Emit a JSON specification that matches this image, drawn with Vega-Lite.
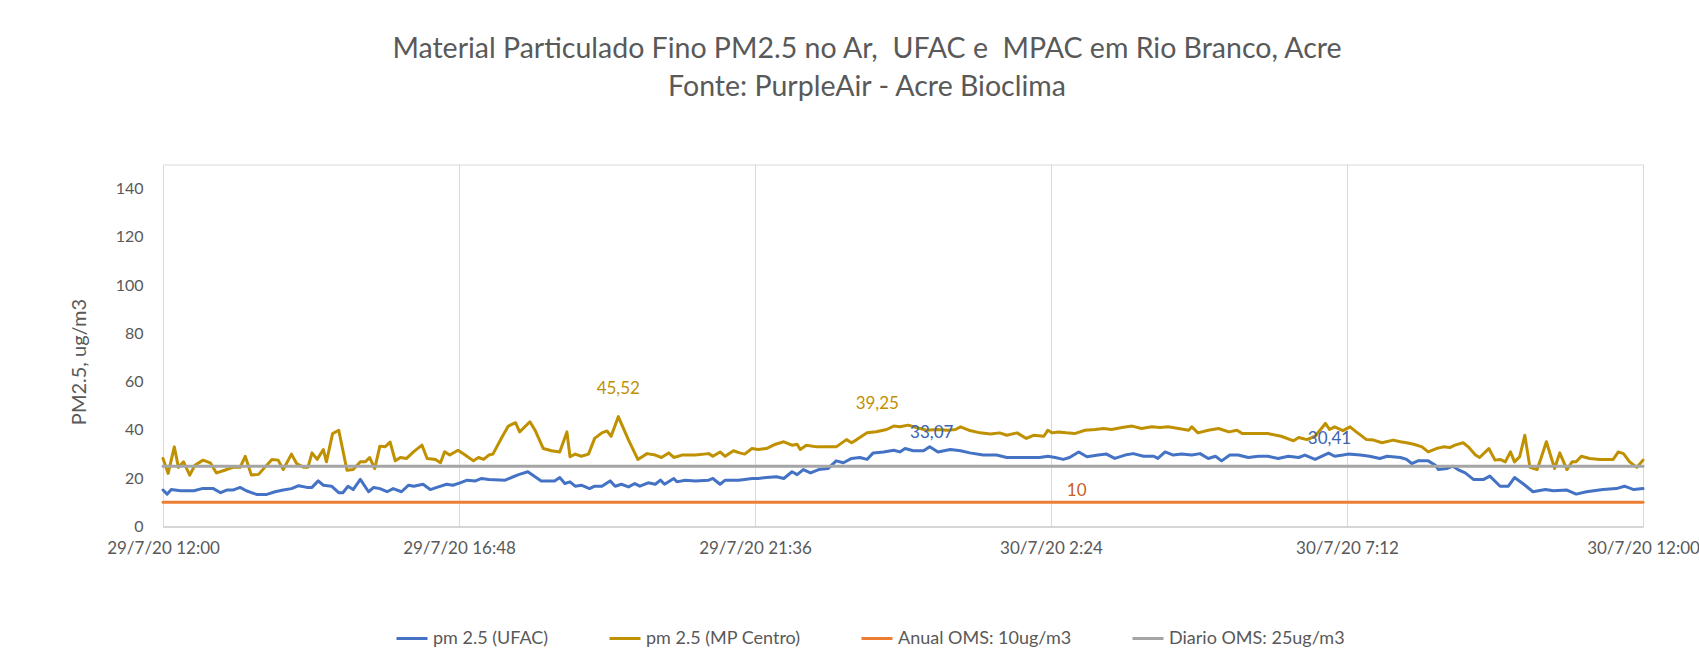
{
"$schema": "https://vega.github.io/schema/vega-lite/v6.json",
"width": 1480, "height": 362,
"autosize": {"type": "none"},
"padding": {"left": 163, "top": 164.5, "right": 56, "bottom": 143.5},
"background": "white",
"config": {"view": {"stroke": "#D9D9D9", "strokeWidth": 1}},
"title": {"text": ["Material Particulado Fino PM2.5 no Ar,\u00a0 UFAC e\u00a0 MPAC em Rio Branco, Acre", "Fonte: PurpleAir - Acre Bioclima"], "anchor": "middle", "dx": -36, "offset": 63, "font": "Lato", "fontSize": 28.5, "fontWeight": "normal", "color": "#595959", "lineHeight": 38},
"datasets": {
"series": [
{"t":"2020-07-29T12:00","s":"pm 2.5 (UFAC)","v":15.1},
{"t":"2020-07-29T12:04","s":"pm 2.5 (UFAC)","v":13.4},
{"t":"2020-07-29T12:08","s":"pm 2.5 (UFAC)","v":15.3},
{"t":"2020-07-29T12:17","s":"pm 2.5 (UFAC)","v":14.8},
{"t":"2020-07-29T12:30","s":"pm 2.5 (UFAC)","v":14.8},
{"t":"2020-07-29T12:38","s":"pm 2.5 (UFAC)","v":15.7},
{"t":"2020-07-29T12:49","s":"pm 2.5 (UFAC)","v":15.7},
{"t":"2020-07-29T12:56","s":"pm 2.5 (UFAC)","v":14.0},
{"t":"2020-07-29T13:02","s":"pm 2.5 (UFAC)","v":15.1},
{"t":"2020-07-29T13:08","s":"pm 2.5 (UFAC)","v":15.1},
{"t":"2020-07-29T13:15","s":"pm 2.5 (UFAC)","v":16.2},
{"t":"2020-07-29T13:21","s":"pm 2.5 (UFAC)","v":14.8},
{"t":"2020-07-29T13:31","s":"pm 2.5 (UFAC)","v":13.3},
{"t":"2020-07-29T13:41","s":"pm 2.5 (UFAC)","v":13.3},
{"t":"2020-07-29T13:49","s":"pm 2.5 (UFAC)","v":14.4},
{"t":"2020-07-29T13:57","s":"pm 2.5 (UFAC)","v":15.1},
{"t":"2020-07-29T14:05","s":"pm 2.5 (UFAC)","v":15.7},
{"t":"2020-07-29T14:12","s":"pm 2.5 (UFAC)","v":16.9},
{"t":"2020-07-29T14:20","s":"pm 2.5 (UFAC)","v":16.2},
{"t":"2020-07-29T14:25","s":"pm 2.5 (UFAC)","v":16.2},
{"t":"2020-07-29T14:31","s":"pm 2.5 (UFAC)","v":18.9},
{"t":"2020-07-29T14:36","s":"pm 2.5 (UFAC)","v":17.1},
{"t":"2020-07-29T14:44","s":"pm 2.5 (UFAC)","v":16.7},
{"t":"2020-07-29T14:51","s":"pm 2.5 (UFAC)","v":14.0},
{"t":"2020-07-29T14:55","s":"pm 2.5 (UFAC)","v":14.0},
{"t":"2020-07-29T15:00","s":"pm 2.5 (UFAC)","v":16.7},
{"t":"2020-07-29T15:05","s":"pm 2.5 (UFAC)","v":15.3},
{"t":"2020-07-29T15:12","s":"pm 2.5 (UFAC)","v":19.5},
{"t":"2020-07-29T15:20","s":"pm 2.5 (UFAC)","v":14.4},
{"t":"2020-07-29T15:25","s":"pm 2.5 (UFAC)","v":16.2},
{"t":"2020-07-29T15:31","s":"pm 2.5 (UFAC)","v":15.7},
{"t":"2020-07-29T15:38","s":"pm 2.5 (UFAC)","v":14.4},
{"t":"2020-07-29T15:44","s":"pm 2.5 (UFAC)","v":15.7},
{"t":"2020-07-29T15:52","s":"pm 2.5 (UFAC)","v":14.4},
{"t":"2020-07-29T15:59","s":"pm 2.5 (UFAC)","v":17.1},
{"t":"2020-07-29T16:04","s":"pm 2.5 (UFAC)","v":16.7},
{"t":"2020-07-29T16:13","s":"pm 2.5 (UFAC)","v":17.5},
{"t":"2020-07-29T16:20","s":"pm 2.5 (UFAC)","v":15.3},
{"t":"2020-07-29T16:28","s":"pm 2.5 (UFAC)","v":16.4},
{"t":"2020-07-29T16:36","s":"pm 2.5 (UFAC)","v":17.5},
{"t":"2020-07-29T16:42","s":"pm 2.5 (UFAC)","v":17.1},
{"t":"2020-07-29T16:49","s":"pm 2.5 (UFAC)","v":18.1},
{"t":"2020-07-29T16:56","s":"pm 2.5 (UFAC)","v":19.2},
{"t":"2020-07-29T17:04","s":"pm 2.5 (UFAC)","v":18.9},
{"t":"2020-07-29T17:10","s":"pm 2.5 (UFAC)","v":19.9},
{"t":"2020-07-29T17:17","s":"pm 2.5 (UFAC)","v":19.5},
{"t":"2020-07-29T17:33","s":"pm 2.5 (UFAC)","v":19.2},
{"t":"2020-07-29T17:39","s":"pm 2.5 (UFAC)","v":20.3},
{"t":"2020-07-29T17:46","s":"pm 2.5 (UFAC)","v":21.5},
{"t":"2020-07-29T17:55","s":"pm 2.5 (UFAC)","v":22.7},
{"t":"2020-07-29T18:02","s":"pm 2.5 (UFAC)","v":20.6},
{"t":"2020-07-29T18:08","s":"pm 2.5 (UFAC)","v":18.9},
{"t":"2020-07-29T18:21","s":"pm 2.5 (UFAC)","v":18.9},
{"t":"2020-07-29T18:26","s":"pm 2.5 (UFAC)","v":20.3},
{"t":"2020-07-29T18:31","s":"pm 2.5 (UFAC)","v":17.8},
{"t":"2020-07-29T18:36","s":"pm 2.5 (UFAC)","v":18.5},
{"t":"2020-07-29T18:41","s":"pm 2.5 (UFAC)","v":16.7},
{"t":"2020-07-29T18:47","s":"pm 2.5 (UFAC)","v":17.1},
{"t":"2020-07-29T18:55","s":"pm 2.5 (UFAC)","v":15.7},
{"t":"2020-07-29T19:00","s":"pm 2.5 (UFAC)","v":16.7},
{"t":"2020-07-29T19:07","s":"pm 2.5 (UFAC)","v":16.7},
{"t":"2020-07-29T19:15","s":"pm 2.5 (UFAC)","v":18.9},
{"t":"2020-07-29T19:20","s":"pm 2.5 (UFAC)","v":16.7},
{"t":"2020-07-29T19:26","s":"pm 2.5 (UFAC)","v":17.5},
{"t":"2020-07-29T19:33","s":"pm 2.5 (UFAC)","v":16.4},
{"t":"2020-07-29T19:39","s":"pm 2.5 (UFAC)","v":17.8},
{"t":"2020-07-29T19:44","s":"pm 2.5 (UFAC)","v":16.7},
{"t":"2020-07-29T19:52","s":"pm 2.5 (UFAC)","v":18.1},
{"t":"2020-07-29T19:59","s":"pm 2.5 (UFAC)","v":17.5},
{"t":"2020-07-29T20:04","s":"pm 2.5 (UFAC)","v":19.2},
{"t":"2020-07-29T20:08","s":"pm 2.5 (UFAC)","v":17.5},
{"t":"2020-07-29T20:17","s":"pm 2.5 (UFAC)","v":19.9},
{"t":"2020-07-29T20:20","s":"pm 2.5 (UFAC)","v":18.5},
{"t":"2020-07-29T20:28","s":"pm 2.5 (UFAC)","v":19.2},
{"t":"2020-07-29T20:38","s":"pm 2.5 (UFAC)","v":18.9},
{"t":"2020-07-29T20:51","s":"pm 2.5 (UFAC)","v":19.2},
{"t":"2020-07-29T20:55","s":"pm 2.5 (UFAC)","v":19.9},
{"t":"2020-07-29T21:02","s":"pm 2.5 (UFAC)","v":17.5},
{"t":"2020-07-29T21:07","s":"pm 2.5 (UFAC)","v":19.2},
{"t":"2020-07-29T21:20","s":"pm 2.5 (UFAC)","v":19.2},
{"t":"2020-07-29T21:26","s":"pm 2.5 (UFAC)","v":19.5},
{"t":"2020-07-29T21:33","s":"pm 2.5 (UFAC)","v":19.9},
{"t":"2020-07-29T21:39","s":"pm 2.5 (UFAC)","v":19.9},
{"t":"2020-07-29T21:47","s":"pm 2.5 (UFAC)","v":20.3},
{"t":"2020-07-29T21:57","s":"pm 2.5 (UFAC)","v":20.6},
{"t":"2020-07-29T22:04","s":"pm 2.5 (UFAC)","v":19.9},
{"t":"2020-07-29T22:12","s":"pm 2.5 (UFAC)","v":22.7},
{"t":"2020-07-29T22:17","s":"pm 2.5 (UFAC)","v":21.5},
{"t":"2020-07-29T22:23","s":"pm 2.5 (UFAC)","v":23.6},
{"t":"2020-07-29T22:30","s":"pm 2.5 (UFAC)","v":22.2},
{"t":"2020-07-29T22:38","s":"pm 2.5 (UFAC)","v":23.6},
{"t":"2020-07-29T22:47","s":"pm 2.5 (UFAC)","v":24.0},
{"t":"2020-07-29T22:55","s":"pm 2.5 (UFAC)","v":27.2},
{"t":"2020-07-29T23:02","s":"pm 2.5 (UFAC)","v":26.4},
{"t":"2020-07-29T23:10","s":"pm 2.5 (UFAC)","v":28.2},
{"t":"2020-07-29T23:18","s":"pm 2.5 (UFAC)","v":28.6},
{"t":"2020-07-29T23:25","s":"pm 2.5 (UFAC)","v":27.8},
{"t":"2020-07-29T23:31","s":"pm 2.5 (UFAC)","v":30.5},
{"t":"2020-07-29T23:41","s":"pm 2.5 (UFAC)","v":30.9},
{"t":"2020-07-29T23:51","s":"pm 2.5 (UFAC)","v":31.6},
{"t":"2020-07-29T23:57","s":"pm 2.5 (UFAC)","v":30.9},
{"t":"2020-07-30T00:02","s":"pm 2.5 (UFAC)","v":32.3},
{"t":"2020-07-30T00:10","s":"pm 2.5 (UFAC)","v":31.4},
{"t":"2020-07-30T00:20","s":"pm 2.5 (UFAC)","v":31.4},
{"t":"2020-07-30T00:26","s":"pm 2.5 (UFAC)","v":33.07},
{"t":"2020-07-30T00:34","s":"pm 2.5 (UFAC)","v":30.9},
{"t":"2020-07-30T00:46","s":"pm 2.5 (UFAC)","v":31.9},
{"t":"2020-07-30T00:56","s":"pm 2.5 (UFAC)","v":31.4},
{"t":"2020-07-30T01:05","s":"pm 2.5 (UFAC)","v":30.5},
{"t":"2020-07-30T01:18","s":"pm 2.5 (UFAC)","v":29.6},
{"t":"2020-07-30T01:31","s":"pm 2.5 (UFAC)","v":29.6},
{"t":"2020-07-30T01:41","s":"pm 2.5 (UFAC)","v":28.6},
{"t":"2020-07-30T01:54","s":"pm 2.5 (UFAC)","v":28.6},
{"t":"2020-07-30T02:04","s":"pm 2.5 (UFAC)","v":28.6},
{"t":"2020-07-30T02:13","s":"pm 2.5 (UFAC)","v":28.6},
{"t":"2020-07-30T02:21","s":"pm 2.5 (UFAC)","v":29.1},
{"t":"2020-07-30T02:28","s":"pm 2.5 (UFAC)","v":28.6},
{"t":"2020-07-30T02:36","s":"pm 2.5 (UFAC)","v":27.8},
{"t":"2020-07-30T02:42","s":"pm 2.5 (UFAC)","v":28.6},
{"t":"2020-07-30T02:51","s":"pm 2.5 (UFAC)","v":30.9},
{"t":"2020-07-30T02:59","s":"pm 2.5 (UFAC)","v":28.9},
{"t":"2020-07-30T03:10","s":"pm 2.5 (UFAC)","v":29.6},
{"t":"2020-07-30T03:18","s":"pm 2.5 (UFAC)","v":30.0},
{"t":"2020-07-30T03:26","s":"pm 2.5 (UFAC)","v":28.2},
{"t":"2020-07-30T03:36","s":"pm 2.5 (UFAC)","v":29.6},
{"t":"2020-07-30T03:44","s":"pm 2.5 (UFAC)","v":30.2},
{"t":"2020-07-30T03:54","s":"pm 2.5 (UFAC)","v":29.1},
{"t":"2020-07-30T04:04","s":"pm 2.5 (UFAC)","v":29.1},
{"t":"2020-07-30T04:08","s":"pm 2.5 (UFAC)","v":28.2},
{"t":"2020-07-30T04:15","s":"pm 2.5 (UFAC)","v":30.9},
{"t":"2020-07-30T04:23","s":"pm 2.5 (UFAC)","v":29.6},
{"t":"2020-07-30T04:31","s":"pm 2.5 (UFAC)","v":30.0},
{"t":"2020-07-30T04:41","s":"pm 2.5 (UFAC)","v":29.6},
{"t":"2020-07-30T04:49","s":"pm 2.5 (UFAC)","v":30.2},
{"t":"2020-07-30T04:57","s":"pm 2.5 (UFAC)","v":28.2},
{"t":"2020-07-30T05:04","s":"pm 2.5 (UFAC)","v":29.1},
{"t":"2020-07-30T05:10","s":"pm 2.5 (UFAC)","v":27.2},
{"t":"2020-07-30T05:18","s":"pm 2.5 (UFAC)","v":29.6},
{"t":"2020-07-30T05:26","s":"pm 2.5 (UFAC)","v":29.6},
{"t":"2020-07-30T05:36","s":"pm 2.5 (UFAC)","v":28.6},
{"t":"2020-07-30T05:46","s":"pm 2.5 (UFAC)","v":29.1},
{"t":"2020-07-30T05:55","s":"pm 2.5 (UFAC)","v":29.1},
{"t":"2020-07-30T06:05","s":"pm 2.5 (UFAC)","v":28.2},
{"t":"2020-07-30T06:15","s":"pm 2.5 (UFAC)","v":29.1},
{"t":"2020-07-30T06:25","s":"pm 2.5 (UFAC)","v":28.6},
{"t":"2020-07-30T06:31","s":"pm 2.5 (UFAC)","v":29.6},
{"t":"2020-07-30T06:41","s":"pm 2.5 (UFAC)","v":27.8},
{"t":"2020-07-30T06:54","s":"pm 2.5 (UFAC)","v":30.41},
{"t":"2020-07-30T07:00","s":"pm 2.5 (UFAC)","v":29.1},
{"t":"2020-07-30T07:08","s":"pm 2.5 (UFAC)","v":29.6},
{"t":"2020-07-30T07:13","s":"pm 2.5 (UFAC)","v":30.0},
{"t":"2020-07-30T07:25","s":"pm 2.5 (UFAC)","v":29.6},
{"t":"2020-07-30T07:34","s":"pm 2.5 (UFAC)","v":29.1},
{"t":"2020-07-30T07:44","s":"pm 2.5 (UFAC)","v":28.2},
{"t":"2020-07-30T07:51","s":"pm 2.5 (UFAC)","v":29.1},
{"t":"2020-07-30T08:04","s":"pm 2.5 (UFAC)","v":28.6},
{"t":"2020-07-30T08:10","s":"pm 2.5 (UFAC)","v":27.8},
{"t":"2020-07-30T08:15","s":"pm 2.5 (UFAC)","v":26.1},
{"t":"2020-07-30T08:21","s":"pm 2.5 (UFAC)","v":27.2},
{"t":"2020-07-30T08:31","s":"pm 2.5 (UFAC)","v":27.2},
{"t":"2020-07-30T08:38","s":"pm 2.5 (UFAC)","v":25.4},
{"t":"2020-07-30T08:41","s":"pm 2.5 (UFAC)","v":23.6},
{"t":"2020-07-30T08:49","s":"pm 2.5 (UFAC)","v":24.0},
{"t":"2020-07-30T08:55","s":"pm 2.5 (UFAC)","v":25.0},
{"t":"2020-07-30T09:00","s":"pm 2.5 (UFAC)","v":23.6},
{"t":"2020-07-30T09:07","s":"pm 2.5 (UFAC)","v":22.2},
{"t":"2020-07-30T09:15","s":"pm 2.5 (UFAC)","v":19.5},
{"t":"2020-07-30T09:25","s":"pm 2.5 (UFAC)","v":19.5},
{"t":"2020-07-30T09:31","s":"pm 2.5 (UFAC)","v":20.9},
{"t":"2020-07-30T09:41","s":"pm 2.5 (UFAC)","v":16.7},
{"t":"2020-07-30T09:49","s":"pm 2.5 (UFAC)","v":16.7},
{"t":"2020-07-30T09:55","s":"pm 2.5 (UFAC)","v":20.3},
{"t":"2020-07-30T10:04","s":"pm 2.5 (UFAC)","v":17.5},
{"t":"2020-07-30T10:13","s":"pm 2.5 (UFAC)","v":14.4},
{"t":"2020-07-30T10:25","s":"pm 2.5 (UFAC)","v":15.3},
{"t":"2020-07-30T10:33","s":"pm 2.5 (UFAC)","v":14.8},
{"t":"2020-07-30T10:46","s":"pm 2.5 (UFAC)","v":15.1},
{"t":"2020-07-30T10:55","s":"pm 2.5 (UFAC)","v":13.4},
{"t":"2020-07-30T11:05","s":"pm 2.5 (UFAC)","v":14.4},
{"t":"2020-07-30T11:21","s":"pm 2.5 (UFAC)","v":15.3},
{"t":"2020-07-30T11:34","s":"pm 2.5 (UFAC)","v":15.7},
{"t":"2020-07-30T11:42","s":"pm 2.5 (UFAC)","v":16.7},
{"t":"2020-07-30T11:51","s":"pm 2.5 (UFAC)","v":15.3},
{"t":"2020-07-30T12:00","s":"pm 2.5 (UFAC)","v":15.7},
{"t":"2020-07-29T12:00","s":"pm 2.5 (MP Centro)","v":28.2},
{"t":"2020-07-29T12:05","s":"pm 2.5 (MP Centro)","v":22.0},
{"t":"2020-07-29T12:11","s":"pm 2.5 (MP Centro)","v":33.0},
{"t":"2020-07-29T12:15","s":"pm 2.5 (MP Centro)","v":24.5},
{"t":"2020-07-29T12:20","s":"pm 2.5 (MP Centro)","v":26.8},
{"t":"2020-07-29T12:26","s":"pm 2.5 (MP Centro)","v":21.3},
{"t":"2020-07-29T12:31","s":"pm 2.5 (MP Centro)","v":25.4},
{"t":"2020-07-29T12:39","s":"pm 2.5 (MP Centro)","v":27.5},
{"t":"2020-07-29T12:46","s":"pm 2.5 (MP Centro)","v":26.4},
{"t":"2020-07-29T12:52","s":"pm 2.5 (MP Centro)","v":22.2},
{"t":"2020-07-29T13:00","s":"pm 2.5 (MP Centro)","v":23.3},
{"t":"2020-07-29T13:08","s":"pm 2.5 (MP Centro)","v":24.5},
{"t":"2020-07-29T13:15","s":"pm 2.5 (MP Centro)","v":24.5},
{"t":"2020-07-29T13:20","s":"pm 2.5 (MP Centro)","v":29.1},
{"t":"2020-07-29T13:26","s":"pm 2.5 (MP Centro)","v":21.3},
{"t":"2020-07-29T13:33","s":"pm 2.5 (MP Centro)","v":21.6},
{"t":"2020-07-29T13:39","s":"pm 2.5 (MP Centro)","v":24.5},
{"t":"2020-07-29T13:46","s":"pm 2.5 (MP Centro)","v":27.8},
{"t":"2020-07-29T13:52","s":"pm 2.5 (MP Centro)","v":27.5},
{"t":"2020-07-29T13:57","s":"pm 2.5 (MP Centro)","v":23.6},
{"t":"2020-07-29T14:05","s":"pm 2.5 (MP Centro)","v":30.0},
{"t":"2020-07-29T14:10","s":"pm 2.5 (MP Centro)","v":26.1},
{"t":"2020-07-29T14:17","s":"pm 2.5 (MP Centro)","v":24.5},
{"t":"2020-07-29T14:21","s":"pm 2.5 (MP Centro)","v":24.5},
{"t":"2020-07-29T14:25","s":"pm 2.5 (MP Centro)","v":30.5},
{"t":"2020-07-29T14:30","s":"pm 2.5 (MP Centro)","v":27.8},
{"t":"2020-07-29T14:36","s":"pm 2.5 (MP Centro)","v":31.9},
{"t":"2020-07-29T14:39","s":"pm 2.5 (MP Centro)","v":26.8},
{"t":"2020-07-29T14:45","s":"pm 2.5 (MP Centro)","v":38.5},
{"t":"2020-07-29T14:51","s":"pm 2.5 (MP Centro)","v":39.9},
{"t":"2020-07-29T14:59","s":"pm 2.5 (MP Centro)","v":23.3},
{"t":"2020-07-29T15:05","s":"pm 2.5 (MP Centro)","v":23.6},
{"t":"2020-07-29T15:12","s":"pm 2.5 (MP Centro)","v":26.8},
{"t":"2020-07-29T15:17","s":"pm 2.5 (MP Centro)","v":26.8},
{"t":"2020-07-29T15:21","s":"pm 2.5 (MP Centro)","v":28.6},
{"t":"2020-07-29T15:26","s":"pm 2.5 (MP Centro)","v":24.0},
{"t":"2020-07-29T15:31","s":"pm 2.5 (MP Centro)","v":33.3},
{"t":"2020-07-29T15:36","s":"pm 2.5 (MP Centro)","v":33.0},
{"t":"2020-07-29T15:41","s":"pm 2.5 (MP Centro)","v":35.0},
{"t":"2020-07-29T15:46","s":"pm 2.5 (MP Centro)","v":27.2},
{"t":"2020-07-29T15:51","s":"pm 2.5 (MP Centro)","v":28.6},
{"t":"2020-07-29T15:57","s":"pm 2.5 (MP Centro)","v":28.2},
{"t":"2020-07-29T16:04","s":"pm 2.5 (MP Centro)","v":31.0},
{"t":"2020-07-29T16:12","s":"pm 2.5 (MP Centro)","v":33.7},
{"t":"2020-07-29T16:17","s":"pm 2.5 (MP Centro)","v":28.2},
{"t":"2020-07-29T16:25","s":"pm 2.5 (MP Centro)","v":27.8},
{"t":"2020-07-29T16:30","s":"pm 2.5 (MP Centro)","v":26.4},
{"t":"2020-07-29T16:34","s":"pm 2.5 (MP Centro)","v":31.0},
{"t":"2020-07-29T16:39","s":"pm 2.5 (MP Centro)","v":29.6},
{"t":"2020-07-29T16:47","s":"pm 2.5 (MP Centro)","v":31.6},
{"t":"2020-07-29T16:54","s":"pm 2.5 (MP Centro)","v":29.6},
{"t":"2020-07-29T17:02","s":"pm 2.5 (MP Centro)","v":27.2},
{"t":"2020-07-29T17:07","s":"pm 2.5 (MP Centro)","v":28.6},
{"t":"2020-07-29T17:12","s":"pm 2.5 (MP Centro)","v":27.8},
{"t":"2020-07-29T17:17","s":"pm 2.5 (MP Centro)","v":29.6},
{"t":"2020-07-29T17:21","s":"pm 2.5 (MP Centro)","v":30.0},
{"t":"2020-07-29T17:30","s":"pm 2.5 (MP Centro)","v":37.2},
{"t":"2020-07-29T17:36","s":"pm 2.5 (MP Centro)","v":41.6},
{"t":"2020-07-29T17:43","s":"pm 2.5 (MP Centro)","v":43.0},
{"t":"2020-07-29T17:47","s":"pm 2.5 (MP Centro)","v":39.2},
{"t":"2020-07-29T17:57","s":"pm 2.5 (MP Centro)","v":43.4},
{"t":"2020-07-29T18:02","s":"pm 2.5 (MP Centro)","v":39.9},
{"t":"2020-07-29T18:10","s":"pm 2.5 (MP Centro)","v":32.3},
{"t":"2020-07-29T18:18","s":"pm 2.5 (MP Centro)","v":31.4},
{"t":"2020-07-29T18:26","s":"pm 2.5 (MP Centro)","v":30.9},
{"t":"2020-07-29T18:33","s":"pm 2.5 (MP Centro)","v":39.2},
{"t":"2020-07-29T18:36","s":"pm 2.5 (MP Centro)","v":28.9},
{"t":"2020-07-29T18:41","s":"pm 2.5 (MP Centro)","v":30.0},
{"t":"2020-07-29T18:47","s":"pm 2.5 (MP Centro)","v":29.1},
{"t":"2020-07-29T18:54","s":"pm 2.5 (MP Centro)","v":30.0},
{"t":"2020-07-29T19:00","s":"pm 2.5 (MP Centro)","v":36.5},
{"t":"2020-07-29T19:07","s":"pm 2.5 (MP Centro)","v":38.8},
{"t":"2020-07-29T19:12","s":"pm 2.5 (MP Centro)","v":39.6},
{"t":"2020-07-29T19:16","s":"pm 2.5 (MP Centro)","v":37.4},
{"t":"2020-07-29T19:23","s":"pm 2.5 (MP Centro)","v":45.52},
{"t":"2020-07-29T19:33","s":"pm 2.5 (MP Centro)","v":35.8},
{"t":"2020-07-29T19:42","s":"pm 2.5 (MP Centro)","v":27.8},
{"t":"2020-07-29T19:51","s":"pm 2.5 (MP Centro)","v":30.2},
{"t":"2020-07-29T19:59","s":"pm 2.5 (MP Centro)","v":29.6},
{"t":"2020-07-29T20:05","s":"pm 2.5 (MP Centro)","v":28.6},
{"t":"2020-07-29T20:12","s":"pm 2.5 (MP Centro)","v":30.5},
{"t":"2020-07-29T20:17","s":"pm 2.5 (MP Centro)","v":28.6},
{"t":"2020-07-29T20:25","s":"pm 2.5 (MP Centro)","v":29.6},
{"t":"2020-07-29T20:38","s":"pm 2.5 (MP Centro)","v":29.6},
{"t":"2020-07-29T20:51","s":"pm 2.5 (MP Centro)","v":30.2},
{"t":"2020-07-29T20:55","s":"pm 2.5 (MP Centro)","v":29.1},
{"t":"2020-07-29T21:02","s":"pm 2.5 (MP Centro)","v":30.9},
{"t":"2020-07-29T21:07","s":"pm 2.5 (MP Centro)","v":29.1},
{"t":"2020-07-29T21:15","s":"pm 2.5 (MP Centro)","v":31.4},
{"t":"2020-07-29T21:21","s":"pm 2.5 (MP Centro)","v":30.5},
{"t":"2020-07-29T21:26","s":"pm 2.5 (MP Centro)","v":30.0},
{"t":"2020-07-29T21:33","s":"pm 2.5 (MP Centro)","v":32.3},
{"t":"2020-07-29T21:39","s":"pm 2.5 (MP Centro)","v":31.9},
{"t":"2020-07-29T21:47","s":"pm 2.5 (MP Centro)","v":32.3},
{"t":"2020-07-29T21:56","s":"pm 2.5 (MP Centro)","v":34.1},
{"t":"2020-07-29T22:04","s":"pm 2.5 (MP Centro)","v":35.1},
{"t":"2020-07-29T22:12","s":"pm 2.5 (MP Centro)","v":33.7},
{"t":"2020-07-29T22:17","s":"pm 2.5 (MP Centro)","v":34.1},
{"t":"2020-07-29T22:20","s":"pm 2.5 (MP Centro)","v":31.9},
{"t":"2020-07-29T22:26","s":"pm 2.5 (MP Centro)","v":33.7},
{"t":"2020-07-29T22:36","s":"pm 2.5 (MP Centro)","v":33.0},
{"t":"2020-07-29T22:46","s":"pm 2.5 (MP Centro)","v":33.0},
{"t":"2020-07-29T22:55","s":"pm 2.5 (MP Centro)","v":33.0},
{"t":"2020-07-29T23:05","s":"pm 2.5 (MP Centro)","v":36.0},
{"t":"2020-07-29T23:10","s":"pm 2.5 (MP Centro)","v":34.7},
{"t":"2020-07-29T23:15","s":"pm 2.5 (MP Centro)","v":36.0},
{"t":"2020-07-29T23:25","s":"pm 2.5 (MP Centro)","v":38.8},
{"t":"2020-07-29T23:34","s":"pm 2.5 (MP Centro)","v":39.25},
{"t":"2020-07-29T23:44","s":"pm 2.5 (MP Centro)","v":40.2},
{"t":"2020-07-29T23:51","s":"pm 2.5 (MP Centro)","v":41.6},
{"t":"2020-07-29T23:57","s":"pm 2.5 (MP Centro)","v":41.3},
{"t":"2020-07-30T00:05","s":"pm 2.5 (MP Centro)","v":42.0},
{"t":"2020-07-30T00:13","s":"pm 2.5 (MP Centro)","v":41.0},
{"t":"2020-07-30T00:23","s":"pm 2.5 (MP Centro)","v":39.9},
{"t":"2020-07-30T00:33","s":"pm 2.5 (MP Centro)","v":40.2},
{"t":"2020-07-30T00:43","s":"pm 2.5 (MP Centro)","v":39.9},
{"t":"2020-07-30T00:51","s":"pm 2.5 (MP Centro)","v":40.2},
{"t":"2020-07-30T00:56","s":"pm 2.5 (MP Centro)","v":41.3},
{"t":"2020-07-30T01:04","s":"pm 2.5 (MP Centro)","v":39.9},
{"t":"2020-07-30T01:15","s":"pm 2.5 (MP Centro)","v":38.8},
{"t":"2020-07-30T01:25","s":"pm 2.5 (MP Centro)","v":38.3},
{"t":"2020-07-30T01:34","s":"pm 2.5 (MP Centro)","v":38.8},
{"t":"2020-07-30T01:41","s":"pm 2.5 (MP Centro)","v":37.8},
{"t":"2020-07-30T01:51","s":"pm 2.5 (MP Centro)","v":38.8},
{"t":"2020-07-30T02:00","s":"pm 2.5 (MP Centro)","v":36.5},
{"t":"2020-07-30T02:07","s":"pm 2.5 (MP Centro)","v":37.8},
{"t":"2020-07-30T02:17","s":"pm 2.5 (MP Centro)","v":37.4},
{"t":"2020-07-30T02:21","s":"pm 2.5 (MP Centro)","v":39.9},
{"t":"2020-07-30T02:25","s":"pm 2.5 (MP Centro)","v":38.8},
{"t":"2020-07-30T02:31","s":"pm 2.5 (MP Centro)","v":39.2},
{"t":"2020-07-30T02:39","s":"pm 2.5 (MP Centro)","v":38.8},
{"t":"2020-07-30T02:47","s":"pm 2.5 (MP Centro)","v":38.5},
{"t":"2020-07-30T02:57","s":"pm 2.5 (MP Centro)","v":39.9},
{"t":"2020-07-30T03:07","s":"pm 2.5 (MP Centro)","v":40.2},
{"t":"2020-07-30T03:15","s":"pm 2.5 (MP Centro)","v":40.6},
{"t":"2020-07-30T03:23","s":"pm 2.5 (MP Centro)","v":40.2},
{"t":"2020-07-30T03:33","s":"pm 2.5 (MP Centro)","v":41.0},
{"t":"2020-07-30T03:43","s":"pm 2.5 (MP Centro)","v":41.6},
{"t":"2020-07-30T03:52","s":"pm 2.5 (MP Centro)","v":40.6},
{"t":"2020-07-30T04:02","s":"pm 2.5 (MP Centro)","v":41.3},
{"t":"2020-07-30T04:10","s":"pm 2.5 (MP Centro)","v":41.0},
{"t":"2020-07-30T04:18","s":"pm 2.5 (MP Centro)","v":41.3},
{"t":"2020-07-30T04:28","s":"pm 2.5 (MP Centro)","v":40.6},
{"t":"2020-07-30T04:38","s":"pm 2.5 (MP Centro)","v":39.9},
{"t":"2020-07-30T04:41","s":"pm 2.5 (MP Centro)","v":41.3},
{"t":"2020-07-30T04:47","s":"pm 2.5 (MP Centro)","v":38.8},
{"t":"2020-07-30T04:57","s":"pm 2.5 (MP Centro)","v":39.9},
{"t":"2020-07-30T05:07","s":"pm 2.5 (MP Centro)","v":40.6},
{"t":"2020-07-30T05:17","s":"pm 2.5 (MP Centro)","v":39.2},
{"t":"2020-07-30T05:25","s":"pm 2.5 (MP Centro)","v":39.9},
{"t":"2020-07-30T05:30","s":"pm 2.5 (MP Centro)","v":38.5},
{"t":"2020-07-30T05:43","s":"pm 2.5 (MP Centro)","v":38.5},
{"t":"2020-07-30T05:55","s":"pm 2.5 (MP Centro)","v":38.5},
{"t":"2020-07-30T06:08","s":"pm 2.5 (MP Centro)","v":37.4},
{"t":"2020-07-30T06:20","s":"pm 2.5 (MP Centro)","v":35.5},
{"t":"2020-07-30T06:25","s":"pm 2.5 (MP Centro)","v":36.9},
{"t":"2020-07-30T06:33","s":"pm 2.5 (MP Centro)","v":36.0},
{"t":"2020-07-30T06:41","s":"pm 2.5 (MP Centro)","v":37.4},
{"t":"2020-07-30T06:51","s":"pm 2.5 (MP Centro)","v":42.7},
{"t":"2020-07-30T06:55","s":"pm 2.5 (MP Centro)","v":40.2},
{"t":"2020-07-30T07:00","s":"pm 2.5 (MP Centro)","v":41.3},
{"t":"2020-07-30T07:08","s":"pm 2.5 (MP Centro)","v":39.7},
{"t":"2020-07-30T07:15","s":"pm 2.5 (MP Centro)","v":41.3},
{"t":"2020-07-30T07:21","s":"pm 2.5 (MP Centro)","v":39.2},
{"t":"2020-07-30T07:31","s":"pm 2.5 (MP Centro)","v":36.0},
{"t":"2020-07-30T07:38","s":"pm 2.5 (MP Centro)","v":35.8},
{"t":"2020-07-30T07:46","s":"pm 2.5 (MP Centro)","v":34.7},
{"t":"2020-07-30T07:57","s":"pm 2.5 (MP Centro)","v":35.8},
{"t":"2020-07-30T08:04","s":"pm 2.5 (MP Centro)","v":35.1},
{"t":"2020-07-30T08:10","s":"pm 2.5 (MP Centro)","v":34.7},
{"t":"2020-07-30T08:17","s":"pm 2.5 (MP Centro)","v":34.1},
{"t":"2020-07-30T08:25","s":"pm 2.5 (MP Centro)","v":33.0},
{"t":"2020-07-30T08:31","s":"pm 2.5 (MP Centro)","v":30.9},
{"t":"2020-07-30T08:39","s":"pm 2.5 (MP Centro)","v":32.3},
{"t":"2020-07-30T08:46","s":"pm 2.5 (MP Centro)","v":33.0},
{"t":"2020-07-30T08:52","s":"pm 2.5 (MP Centro)","v":32.7},
{"t":"2020-07-30T08:57","s":"pm 2.5 (MP Centro)","v":33.7},
{"t":"2020-07-30T09:05","s":"pm 2.5 (MP Centro)","v":34.7},
{"t":"2020-07-30T09:10","s":"pm 2.5 (MP Centro)","v":33.0},
{"t":"2020-07-30T09:17","s":"pm 2.5 (MP Centro)","v":29.6},
{"t":"2020-07-30T09:21","s":"pm 2.5 (MP Centro)","v":28.6},
{"t":"2020-07-30T09:30","s":"pm 2.5 (MP Centro)","v":32.3},
{"t":"2020-07-30T09:36","s":"pm 2.5 (MP Centro)","v":27.5},
{"t":"2020-07-30T09:41","s":"pm 2.5 (MP Centro)","v":27.8},
{"t":"2020-07-30T09:46","s":"pm 2.5 (MP Centro)","v":26.8},
{"t":"2020-07-30T09:51","s":"pm 2.5 (MP Centro)","v":30.9},
{"t":"2020-07-30T09:55","s":"pm 2.5 (MP Centro)","v":26.8},
{"t":"2020-07-30T10:00","s":"pm 2.5 (MP Centro)","v":28.9},
{"t":"2020-07-30T10:05","s":"pm 2.5 (MP Centro)","v":37.8},
{"t":"2020-07-30T10:10","s":"pm 2.5 (MP Centro)","v":24.5},
{"t":"2020-07-30T10:17","s":"pm 2.5 (MP Centro)","v":23.6},
{"t":"2020-07-30T10:21","s":"pm 2.5 (MP Centro)","v":28.6},
{"t":"2020-07-30T10:26","s":"pm 2.5 (MP Centro)","v":35.1},
{"t":"2020-07-30T10:31","s":"pm 2.5 (MP Centro)","v":28.2},
{"t":"2020-07-30T10:34","s":"pm 2.5 (MP Centro)","v":24.0},
{"t":"2020-07-30T10:39","s":"pm 2.5 (MP Centro)","v":30.5},
{"t":"2020-07-30T10:46","s":"pm 2.5 (MP Centro)","v":23.6},
{"t":"2020-07-30T10:51","s":"pm 2.5 (MP Centro)","v":26.8},
{"t":"2020-07-30T10:55","s":"pm 2.5 (MP Centro)","v":26.8},
{"t":"2020-07-30T11:00","s":"pm 2.5 (MP Centro)","v":29.1},
{"t":"2020-07-30T11:08","s":"pm 2.5 (MP Centro)","v":28.2},
{"t":"2020-07-30T11:18","s":"pm 2.5 (MP Centro)","v":27.8},
{"t":"2020-07-30T11:31","s":"pm 2.5 (MP Centro)","v":27.8},
{"t":"2020-07-30T11:36","s":"pm 2.5 (MP Centro)","v":30.9},
{"t":"2020-07-30T11:41","s":"pm 2.5 (MP Centro)","v":30.2},
{"t":"2020-07-30T11:47","s":"pm 2.5 (MP Centro)","v":26.8},
{"t":"2020-07-30T11:54","s":"pm 2.5 (MP Centro)","v":24.5},
{"t":"2020-07-30T12:00","s":"pm 2.5 (MP Centro)","v":27.5},
{"t":"2020-07-29T12:00","s":"Anual OMS: 10ug/m3","v":10},
{"t":"2020-07-30T12:00","s":"Anual OMS: 10ug/m3","v":10},
{"t":"2020-07-29T12:00","s":"Diario OMS: 25ug/m3","v":25},
{"t":"2020-07-30T12:00","s":"Diario OMS: 25ug/m3","v":25}
],
"labels": [
{"t":"2020-07-29T19:23","s":"pm 2.5 (MP Centro)","v":45.52,"txt":"45,52"},
{"t":"2020-07-29T23:35","s":"pm 2.5 (MP Centro)","v":39.25,"txt":"39,25"},
{"t":"2020-07-30T00:28","s":"pm 2.5 (UFAC)","v":33.07,"txt":"33,07"},
{"t":"2020-07-30T06:55","s":"pm 2.5 (UFAC)","v":30.41,"txt":"30,41"},
{"t":"2020-07-30T02:49","s":"Anual OMS: 10ug/m3","v":10,"txt":"10"}
]
},
"layer": [
{
"data": {"name": "series"},
"mark": {"type": "line", "strokeWidth": 3, "strokeJoin": "round", "strokeCap": "round"},
"encoding": {
"x": {"field": "t", "type": "temporal",
 "scale": {"domain": [{"year": 2020, "month": 7, "date": 29, "hours": 12, "minutes": 0}, {"year": 2020, "month": 7, "date": 30, "hours": 12, "minutes": 0}], "nice": false},
 "axis": {"values": [
  {"year": 2020, "month": 7, "date": 29, "hours": 12, "minutes": 0},
  {"year": 2020, "month": 7, "date": 29, "hours": 16, "minutes": 48},
  {"year": 2020, "month": 7, "date": 29, "hours": 21, "minutes": 36},
  {"year": 2020, "month": 7, "date": 30, "hours": 2, "minutes": 24},
  {"year": 2020, "month": 7, "date": 30, "hours": 7, "minutes": 12},
  {"year": 2020, "month": 7, "date": 30, "hours": 12, "minutes": 0}],
  "format": "%-d/%-m/%y %-H:%M", "title": null, "grid": true, "gridColor": "#D9D9D9", "gridWidth": 1,
  "domainColor": "#BFBFBF", "domainWidth": 1, "ticks": false, "labelFont": "Lato", "labelFontSize": 17, "labelColor": "#595959",
  "labelPadding": 14, "labelOverlap": false, "labelFlush": false, "labelBound": false}},
"y": {"field": "v", "type": "quantitative",
 "scale": {"domain": [0, 150], "nice": false},
 "axis": {"values": [0, 20, 40, 60, 80, 100, 120, 140], "title": "PM2.5, ug/m3", "grid": false, "domain": false, "ticks": false,
  "labelPadding": 20, "labelFont": "Lato", "labelFontSize": 16, "labelColor": "#595959",
  "titleFont": "Lato", "titleFontSize": 20, "titleFontWeight": "normal", "titleColor": "#595959",
  "titleX": -84, "titleY": 197, "titleAngle": -90, "titleAlign": "center", "titleBaseline": "middle"}},
"color": {"field": "s", "type": "nominal",
 "scale": {"domain": ["pm 2.5 (UFAC)", "pm 2.5 (MP Centro)", "Anual OMS: 10ug/m3", "Diario OMS: 25ug/m3"], "range": ["#4472C4", "#BF9000", "#ED7D31", "#A5A5A5"]},
 "legend": {"orient": "none", "legendX": 232, "legendY": 457, "direction": "horizontal", "columns": 4, "title": null,
  "symbolType": "stroke", "symbolStrokeWidth": 3, "symbolSize": 961, "labelFont": "Lato", "labelFontSize": 18, "labelColor": "#595959",
  "labelLimit": 400, "columnPadding": 54, "labelOffset": 4}}
}
},
{
"data": {"name": "labels"},
"transform": [{"filter": "datum.s == 'pm 2.5 (MP Centro)'"}],
"mark": {"type": "text", "dy": -28, "font": "Lato", "fontSize": 17, "color": "#BF9000"},
"encoding": {"x": {"field": "t", "type": "temporal"}, "y": {"field": "v", "type": "quantitative"}, "text": {"field": "txt"}}
},
{
"data": {"name": "labels"},
"transform": [{"filter": "datum.s == 'pm 2.5 (UFAC)'"}],
"mark": {"type": "text", "dy": -14, "font": "Lato", "fontSize": 17, "color": "#3A63B0"},
"encoding": {"x": {"field": "t", "type": "temporal"}, "y": {"field": "v", "type": "quantitative"}, "text": {"field": "txt"}}
},
{
"data": {"name": "labels"},
"transform": [{"filter": "datum.s == 'Anual OMS: 10ug/m3'"}],
"mark": {"type": "text", "dy": -11, "font": "Lato", "fontSize": 17, "color": "#C9601E"},
"encoding": {"x": {"field": "t", "type": "temporal"}, "y": {"field": "v", "type": "quantitative"}, "text": {"field": "txt"}}
}
]
}
